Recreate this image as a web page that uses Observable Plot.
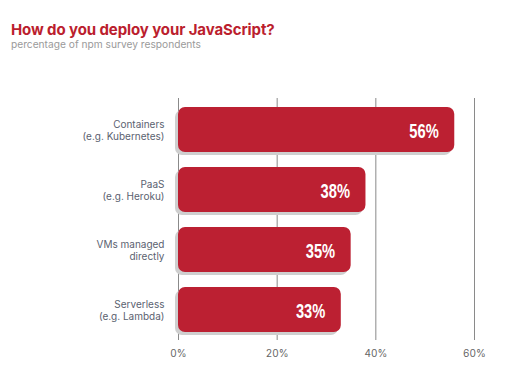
<!DOCTYPE html>
<html><head><meta charset="utf-8">
<script src="https://cdn.jsdelivr.net/npm/d3@7"></script>
<script src="https://cdn.jsdelivr.net/npm/@observablehq/plot@0.6"></script>
<style>
body{margin:0;background:#fff;font-family:Inter,"Open Sans",sans-serif;}
#wrap{position:relative;width:521px;height:391px;overflow:hidden;}
#title{position:absolute;left:11px;top:20px;line-height:normal;font-size:15px;font-weight:700;color:#bb1e2e;letter-spacing:-0.1px;white-space:nowrap;}
#sub{position:absolute;left:11px;top:38.4px;line-height:normal;font-size:10.2px;color:#9a9a9a;white-space:nowrap;}
#chart{position:absolute;left:0;top:60px;}
</style></head>
<body><div id="wrap">
<div id="title">How do you deploy your JavaScript?</div>
<div id="sub">percentage of npm survey respondents</div>
<div id="chart"></div>
</div>
<script>
const categories = ["Containers", "PaaS", "VMs", "Serverless"];
const labels = ["Containers\n(e.g. Kubernetes)", "PaaS\n(e.g. Heroku)", "VMs managed\ndirectly", "Serverless\n(e.g. Lambda)"];
const values = [56, 38, 35, 33];
const ticks = [0, 20, 40, 60];

const data = categories.map((c, i) => ({cat: c, label: labels[i], value: values[i]}));

const chart = Plot.plot({
  width: 521,
  height: 320,
  marginLeft: 178,
  marginRight: 47,
  marginTop: 38,
  marginBottom: 40,
  x: {domain: [0, 60], axis: null},
  y: {domain: categories, axis: null, paddingInner: 0.25, paddingOuter: 0.13},
  style: {fontFamily: "Inter, 'Open Sans', sans-serif", background: "#fff"},
  marks: [
    Plot.ruleX(ticks, {stroke: "#8a8a8a", strokeWidth: 1, strokeOpacity: 1}),
    Plot.axisX({ticks: ticks, label: null, tickSize: 0, tickPadding: 9, tickFormat: d => d + "%", fontSize: 10, color: "#666", fill: "#666"}),
    Plot.barX(data, {x: "value", y: "cat", fill: "#cfcfcf", rx: 7, dx: -3, dy: 3}),
    Plot.barX(data, {x: "value", y: "cat", fill: "#bc2032", rx: 7}),
    Plot.text(data, {x: 0, y: "cat", text: "label", textAnchor: "end", dx: -14, fontSize: 10, lineHeight: 1.2, fill: "#5b6270"}),
    Plot.text(data, {x: "value", y: "cat", text: d => d.value + "%", textAnchor: "end", dx: -16, dy: 1, fill: "#fff", fontSize: 21, fontWeight: 700, fontFamily: "Liberation Sans, Arial, sans-serif"})
  ]
});
// Narrow the value labels to mimic the condensed display face
const groups = chart.querySelectorAll('g[aria-label="text"]');
const valueGroup = groups[groups.length - 1];
valueGroup.querySelectorAll("text").forEach(t => {
  const tr = t.getAttribute("transform") || "";
  t.setAttribute("transform", tr + " scale(0.7,1)");
});
document.getElementById("chart").appendChild(chart);
</script>
</body></html>
